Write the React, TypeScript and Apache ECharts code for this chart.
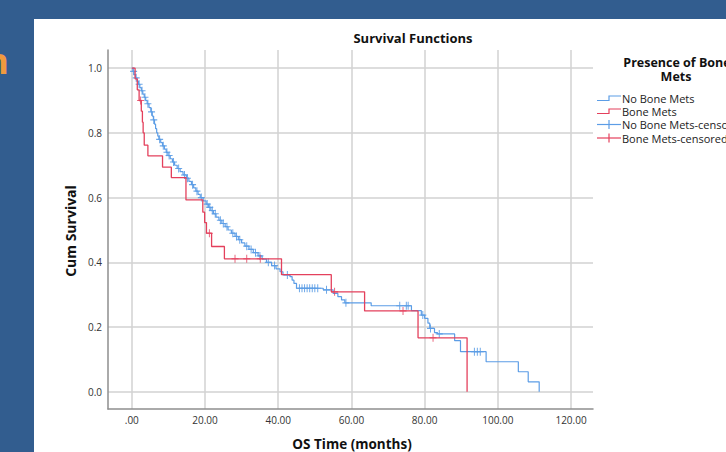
import React, { useEffect, useRef } from 'react';
import * as echarts from 'echarts';

const xTicks = [0, 20, 40, 60, 80, 100, 120];
const yTicks = [0, 0.2, 0.4, 0.6, 0.8, 1.0];

const seriesNames = ['No Bone Mets', 'Bone Mets', 'No Bone Mets-censored', 'Bone Mets-censored'];

// Bone Mets (red) Kaplan-Meier steps: time (months) and survival after the event
const redTimes = [0, 0.9, 1.5, 2.0, 2.6, 2.9, 3.1, 3.4, 4.4, 8.4, 10.8, 14.8, 19.4, 19.9, 20.4, 21.8, 25.3, 40.9, 54.5, 63.6, 78.2, 91.6];
const redSurv = [1, 0.967, 0.933, 0.9, 0.867, 0.833, 0.8, 0.762, 0.729, 0.694, 0.662, 0.593, 0.555, 0.523, 0.49, 0.449, 0.411, 0.362, 0.309, 0.25, 0.167, 0];
const redCensorTimes = [2.4, 21.2, 28.2, 31.4, 35.1, 55.4, 74.1, 82.3];

// No Bone Mets (blue)
const blueTimes = [0, 0.3, 0.6, 1.0, 1.4, 1.8, 2.2, 2.6, 3.0, 3.4, 3.8, 4.2, 4.7, 5.2, 5.6, 5.9, 6.2, 6.5, 6.8, 7.1, 7.4, 7.9, 8.4, 8.9, 9.4, 9.9, 10.5, 11.1, 11.7, 12.4, 13.2, 14.0, 14.9, 15.6, 16.3, 16.9, 17.5, 18.1, 18.7, 19.5, 20.3, 21.0, 21.6, 22.3, 23.0, 23.8, 24.6, 25.5, 26.3, 27.2, 28.2, 29.1, 30.0, 30.9, 32.0, 33.2, 34.5, 35.6, 36.8, 38.2, 39.4, 40.5, 41.3, 43.2, 43.8, 44.3, 45.0, 52.3, 55.0, 56.3, 57.3, 58.2, 65.4, 76.4, 79.1, 80.0, 80.9, 81.4, 82.7, 83.5, 88.2, 89.8, 96.8, 105.6, 108.3, 111.3];
const blueSurv = [1, 0.99, 0.98, 0.97, 0.96, 0.95, 0.94, 0.93, 0.92, 0.91, 0.9, 0.89, 0.878, 0.865, 0.852, 0.84, 0.827, 0.813, 0.8, 0.79, 0.78, 0.77, 0.76, 0.75, 0.74, 0.73, 0.72, 0.71, 0.7, 0.69, 0.68, 0.67, 0.66, 0.65, 0.64, 0.63, 0.62, 0.61, 0.6, 0.59, 0.58, 0.57, 0.56, 0.55, 0.54, 0.53, 0.52, 0.51, 0.5, 0.49, 0.48, 0.47, 0.46, 0.45, 0.44, 0.43, 0.42, 0.41, 0.4, 0.39, 0.38, 0.371, 0.361, 0.356, 0.345, 0.335, 0.32, 0.315, 0.304, 0.294, 0.284, 0.275, 0.266, 0.251, 0.237, 0.227, 0.212, 0.196, 0.183, 0.179, 0.158, 0.124, 0.093, 0.062, 0.031, 0];
const blueCensorTimes = [0.5, 1.2, 2.0, 2.8, 3.6, 4.4, 5.4, 6.0, 7.6, 8.6, 9.6, 10.2, 11.4, 12.8, 14.4, 15.2, 16.6, 17.8, 19.0, 20.6, 21.3, 22.0, 22.8, 24.2, 25.0, 26.0, 27.6, 28.6, 29.5, 31.4, 32.6, 33.8, 35.0, 37.3, 39.0, 42.5, 45.8, 46.5, 47.2, 47.9, 48.6, 49.3, 50.0, 50.8, 53.2, 58.5, 73.2, 75.0, 75.5, 79.5, 81.6, 84.0, 93.6, 94.4, 95.2];

const BLUE = '#5c9de6';
const RED = '#e4405c';

function survAt(times: number[], surv: number[], t: number): number {
  let s = surv[0];
  for (let i = 0; i < times.length; i++) {
    if (times[i] <= t) s = surv[i];
  }
  return s;
}

export default function App() {
  const ref = useRef<HTMLDivElement>(null);

  useEffect(() => {
    const chart = echarts.init(ref.current!, null, { renderer: 'svg' });
    const font = "'Open Sans', sans-serif";
    const cross = 'path://M-0.14,-1H0.14V-0.14H1V0.14H0.14V1H-0.14V0.14H-1V-0.14H-0.14Z';

    const blueLine = blueTimes.map((t, i) => [t, blueSurv[i]]);
    const redLine = redTimes.map((t, i) => [t, redSurv[i]]);
    const blueCens = blueCensorTimes.map((t) => [t, survAt(blueTimes, blueSurv, t)]);
    const redCens = redCensorTimes.map((t) => [t, survAt(redTimes, redSurv, t)]);

    const isTick = (arr: number[], v: number) => arr.some((t) => Math.abs(t - v) < 1e-6);

    const lx0 = 597, lx1 = 621, lmid = 609;
    const rows = [98, 111, 124.5, 138];

    chart.setOption({
      animation: false,
      grid: { left: 108, right: 133, top: 50, bottom: 43, containLabel: false },
      xAxis: {
        type: 'value',
        min: -6.5,
        max: 126,
        minInterval: 20,
        maxInterval: 20,
        axisLine: { show: true, onZero: false, lineStyle: { color: '#8e8e8e', width: 1.5 } },
        axisTick: { show: false },
        axisLabel: {
          color: '#333',
          fontSize: 10,
          fontFamily: font,
          margin: 6,
          showMinLabel: false,
          showMaxLabel: false,
          formatter: (v: number) => (isTick(xTicks, v) ? (Math.abs(v) < 1e-6 ? '.00' : v.toFixed(2)) : ''),
        },
        splitLine: { show: true, showMinLine: false, showMaxLine: false, lineStyle: { color: '#d2d2d2', width: 1.5 } },
      },
      yAxis: {
        type: 'value',
        min: -0.053,
        max: 1.056,
        minInterval: 0.2,
        maxInterval: 0.2,
        axisLine: { show: true, onZero: false, lineStyle: { color: '#8e8e8e', width: 1.5 } },
        axisTick: { show: false },
        axisLabel: {
          color: '#333',
          fontSize: 10,
          fontFamily: font,
          margin: 6,
          showMinLabel: false,
          showMaxLabel: false,
          formatter: (v: number) => (isTick(yTicks, v) ? v.toFixed(1) : ''),
        },
        splitLine: { show: true, showMinLine: false, showMaxLine: false, lineStyle: { color: '#d2d2d2', width: 1.5 } },
      },
      series: [
        {
          name: seriesNames[0],
          type: 'line',
          step: 'end',
          data: blueLine,
          showSymbol: false,
          lineStyle: { color: BLUE, width: 1.2 },
          z: 2,
        },
        {
          name: seriesNames[2],
          type: 'scatter',
          data: blueCens,
          symbol: cross,
          symbolSize: [7, 8],
          itemStyle: { color: BLUE, opacity: 0.9 },
          z: 3,
        },
        {
          name: seriesNames[1],
          type: 'line',
          step: 'end',
          data: redLine,
          showSymbol: false,
          lineStyle: { color: RED, width: 1.3 },
          z: 4,
        },
        {
          name: seriesNames[3],
          type: 'scatter',
          data: redCens,
          symbol: cross,
          symbolSize: [7, 8],
          itemStyle: { color: RED },
          z: 5,
        },
      ],
      graphic: [
        {
          type: 'text',
          x: 9,
          y: 78,
          style: { text: 'n', fill: '#f09a3e', font: `bold 36px ${font}`, textAlign: 'right', textVerticalAlign: 'bottom' },
        },
        {
          type: 'text',
          x: 413,
          y: 38,
          style: { text: 'Survival Functions', fill: '#111', font: `bold 13px ${font}`, textAlign: 'center', textVerticalAlign: 'middle' },
        },
        {
          type: 'text',
          x: 352,
          y: 444,
          style: { text: 'OS Time (months)', fill: '#111', font: `bold 13.5px ${font}`, textAlign: 'center', textVerticalAlign: 'middle' },
        },
        {
          type: 'text',
          x: 70,
          y: 231,
          rotation: Math.PI / 2,
          style: { text: 'Cum Survival', fill: '#111', font: `bold 14px ${font}`, textAlign: 'center', textVerticalAlign: 'middle' },
        },
        {
          type: 'text',
          x: 677,
          y: 62,
          style: { text: 'Presence of Bone', fill: '#111', font: `bold 12.5px ${font}`, lineHeight: 13, textAlign: 'center', textVerticalAlign: 'middle' },
        },
        {
          type: 'text',
          x: 676,
          y: 76,
          style: { text: 'Mets', fill: '#111', font: `bold 12.5px ${font}`, lineHeight: 13, textAlign: 'center', textVerticalAlign: 'middle' },
        },
        {
          type: 'polyline',
          shape: { points: [[lx0, rows[0] + 2.5], [lmid, rows[0] + 2.5], [lmid, rows[0] - 2], [lx1, rows[0] - 2]] },
          style: { stroke: BLUE, lineWidth: 1.2, fill: 'none' },
        },
        {
          type: 'polyline',
          shape: { points: [[lx0, rows[1] + 2.5], [lmid, rows[1] + 2.5], [lmid, rows[1] - 2], [lx1, rows[1] - 2]] },
          style: { stroke: RED, lineWidth: 1.2, fill: 'none' },
        },
        { type: 'line', shape: { x1: lx0, y1: rows[2], x2: lx1, y2: rows[2] }, style: { stroke: BLUE, lineWidth: 1.2 } },
        { type: 'line', shape: { x1: lmid, y1: rows[2] - 4.5, x2: lmid, y2: rows[2] + 4.5 }, style: { stroke: BLUE, lineWidth: 1.2 } },
        { type: 'line', shape: { x1: lx0, y1: rows[3], x2: lx1, y2: rows[3] }, style: { stroke: RED, lineWidth: 1.2 } },
        { type: 'line', shape: { x1: lmid, y1: rows[3] - 4.5, x2: lmid, y2: rows[3] + 4.5 }, style: { stroke: RED, lineWidth: 1.2 } },
        ...seriesNames.map((name, i) => ({
          type: 'text',
          x: 622,
          y: rows[i],
          style: { text: name, fill: '#222', font: `11px ${font}`, lineHeight: 12, textAlign: 'left', textVerticalAlign: 'middle' },
        })),
      ],
    });

    return () => {
      chart.dispose();
    };
  }, []);

  return (
    <div style={{ position: 'absolute', left: 0, top: 0, width: 726, height: 452, background: '#325d8f', overflow: 'hidden' }}>
      <div style={{ position: 'absolute', left: 34, top: 19, width: 692, height: 433, background: '#ffffff' }} />
      <div ref={ref} style={{ position: 'absolute', left: 0, top: 0, width: 726, height: 452 }} />
    </div>
  );
}
